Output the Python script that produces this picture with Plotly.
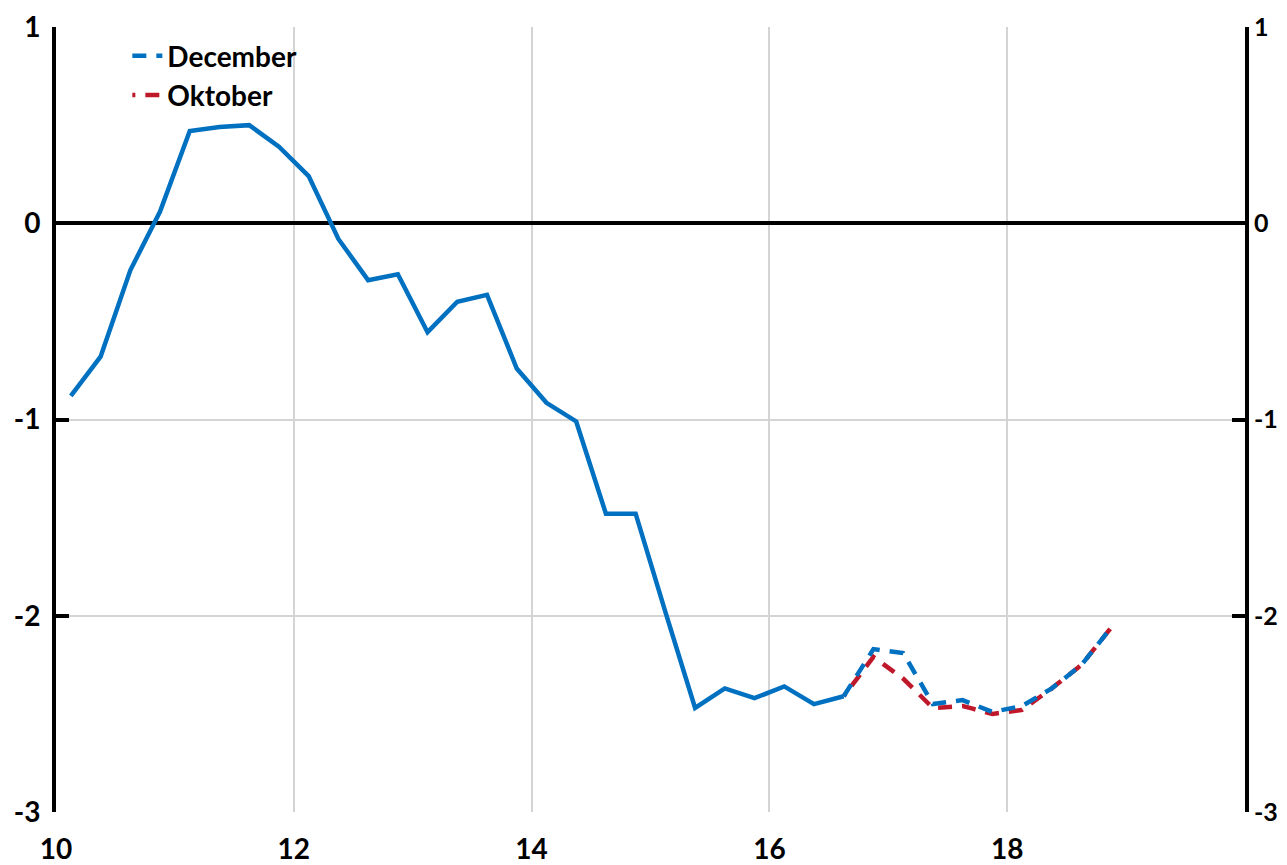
import plotly.graph_objects as go

# quarterly values, first quarter is Q1 of year "10"
historik = [-0.88, -0.68, -0.24, 0.06, 0.47, 0.49, 0.50, 0.39, 0.24, -0.08,
            -0.29, -0.26, -0.555, -0.40, -0.365, -0.74, -0.915, -1.01, -1.48, -1.48,
            -1.98, -2.47, -2.37, -2.42, -2.36, -2.45, -2.41]
december = [-2.41, -2.17, -2.19, -2.45, -2.43, -2.49, -2.46, -2.37, -2.25, -2.06]
oktober = [-2.41, -2.21, -2.32, -2.47, -2.46, -2.50, -2.48, -2.37, -2.25, -2.06]

x_ticks = [10, 12, 14, 16, 18]
y_ticks = [1, 0, -1, -2, -3]
y_labels = ["1", "0", "-1", "-2", "-3"]

start = 10
x_hist = [start + (i + 0.5) / 4 for i in range(len(historik))]
x_prog = [x_hist[-1] + i / 4 for i in range(len(december))]

BLUE = "#0070C0"
RED = "#C0182B"
FONT = dict(family="Lato", size=28, color="black", weight="bold")
FONT_R = dict(FONT, size=25)

fig = go.Figure()
fig.add_trace(go.Scatter(x=x_prog, y=oktober, mode="lines", name="Oktober",
                         line=dict(color=RED, width=4.5, dash="3px,10px,11px,0px"),
                         legendrank=2))
fig.add_trace(go.Scatter(x=x_prog, y=december, mode="lines", name="December",
                         line=dict(color=BLUE, width=4.5, dash="14px,10px"),
                         legendrank=1))
fig.add_trace(go.Scatter(x=x_hist, y=historik, mode="lines", showlegend=False,
                         line=dict(color=BLUE, width=4.5)))
# invisible copy so the right-hand axis gets drawn
fig.add_trace(go.Scatter(x=x_hist, y=historik, mode="lines", showlegend=False,
                         yaxis="y2", hoverinfo="skip",
                         line=dict(color="rgba(0,0,0,0)", width=0)))

ax_common = dict(range=[-3, 1], tickvals=y_ticks, ticktext=y_labels,
                 showline=True, linecolor="black", linewidth=4,
                 ticks="inside", ticklen=13, tickwidth=4, tickcolor="black",
                 automargin=False)

# page body has an 8px margin, so the figure is made 8px smaller
fig.update_layout(
    width=1279, height=857,
    margin=dict(l=48, r=42, t=19, b=53),
    plot_bgcolor="white", paper_bgcolor="white",
    font=FONT,
    showlegend=True,
    legend=dict(x=0.06, y=0.995, xanchor="left", yanchor="top",
                bgcolor="rgba(0,0,0,0)", font=dict(size=28)),
    xaxis=dict(range=[10, 20], tickvals=x_ticks, showgrid=True,
               gridcolor="#d4d4d4", gridwidth=2, showline=False,
               zeroline=False, ticks="", tickfont=FONT, automargin=False,
               ticklabelstandoff=18),
    yaxis=dict(showgrid=True, gridcolor="#d4d4d4", gridwidth=2,
               zeroline=True, zerolinecolor="black", zerolinewidth=4,
               ticklabelstandoff=6, tickfont=FONT, **ax_common),
    yaxis2=dict(overlaying="y", side="right", showgrid=False, zeroline=False,
                ticklabelstandoff=0, tickfont=FONT_R, **ax_common),
)

fig.write_html("out.html")
